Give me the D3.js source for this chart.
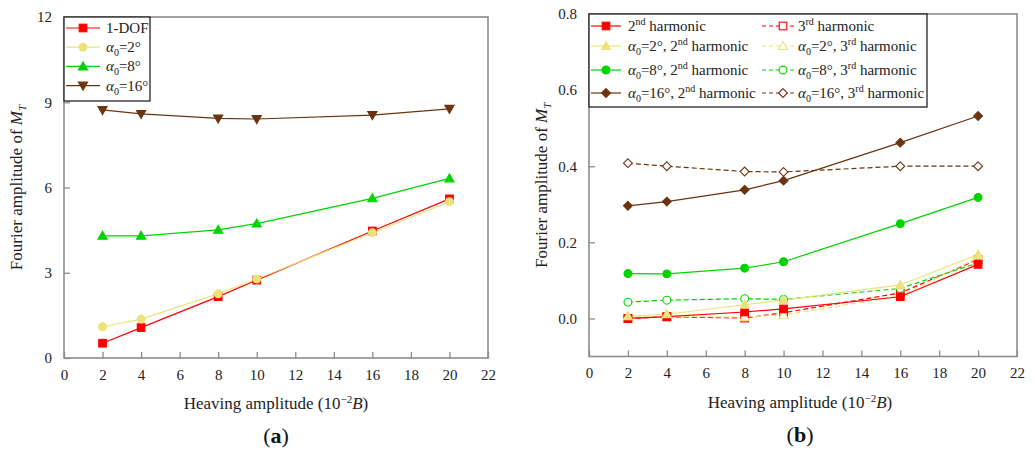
<!DOCTYPE html>
<html>
<head>
<meta charset="utf-8">
<script src="https://cdn.jsdelivr.net/npm/d3@7"></script>
<style>
  html, body { margin: 0; padding: 0; background: #fff; }
  svg { display: block; }
  svg text { font-family: "Liberation Serif", "DejaVu Serif", serif !important; }
</style>
</head>
<body>
<svg id="chart" width="1035" height="450"></svg>
<script>
// Heaving amplitudes (10^-2 B)
const heave = [2, 4, 8, 10, 16, 20];
const xTicks = [0, 2, 4, 6, 8, 10, 12, 14, 16, 18, 20, 22];

// (a) first-harmonic Fourier amplitude of M_T
const oneDof   = [0.52, 1.07, 2.16, 2.74, 4.47, 5.60];
const alpha2   = [1.10, 1.37, 2.26, 2.78, 4.41, 5.50];
const alpha8   = [4.30, 4.30, 4.51, 4.73, 5.62, 6.32];
const alpha16  = [8.73, 8.59, 8.43, 8.41, 8.55, 8.77];
const yTicksA  = [0, 3, 6, 9, 12];

// (b) higher-harmonic amplitudes of M_T
const dof2nd     = [0.000, 0.005, 0.017, 0.025, 0.057, 0.142];
const dof3rd     = [0.000, 0.004, 0.001, 0.015, 0.067, 0.155];
const a2_2nd     = [0.006, 0.011, 0.036, 0.048, 0.088, 0.168];
const a2_3rd     = [0.003, 0.005, 0.004, 0.009, 0.059, 0.160];
const a8_2nd     = [0.118, 0.117, 0.132, 0.149, 0.249, 0.318];
const a8_3rd     = [0.043, 0.048, 0.052, 0.050, 0.079, 0.146];
const a16_2nd    = [0.296, 0.307, 0.338, 0.362, 0.462, 0.532];
const a16_3rd    = [0.408, 0.400, 0.386, 0.385, 0.400, 0.400];
const yTicksB    = [0.0, 0.2, 0.4, 0.6, 0.8];

const RED = "#ff0000", YEL = "#ede27a", GRN = "#00d400", BRN = "#6b3410";
const FRAME = "#8c8c8c";

const svg = d3.select("#chart");

// marker shapes
function drawMarker(g, shape, x, y, color, filled) {
  const fill = filled ? color : "#fff";
  const sw = 1.1;
  if (shape === "square") {
    g.append("rect").attr("x", x - 3.8).attr("y", y - 3.8).attr("width", 7.6).attr("height", 7.6)
      .attr("fill", fill).attr("stroke", color).attr("stroke-width", sw);
  } else if (shape === "circle") {
    g.append("circle").attr("cx", x).attr("cy", y).attr("r", 3.9)
      .attr("fill", fill).attr("stroke", color).attr("stroke-width", sw);
  } else if (shape === "tri") {
    const s = 4.6;
    g.append("path").attr("d", `M${x},${y - s}L${x + s},${y + s * 0.75}L${x - s},${y + s * 0.75}Z`)
      .attr("fill", fill).attr("stroke", color).attr("stroke-width", sw);
  } else if (shape === "tridown") {
    const s = 4.6;
    g.append("path").attr("d", `M${x},${y + s}L${x + s},${y - s * 0.75}L${x - s},${y - s * 0.75}Z`)
      .attr("fill", fill).attr("stroke", color).attr("stroke-width", sw);
  } else if (shape === "diamond") {
    const s = 4.4;
    g.append("path").attr("d", `M${x},${y - s}L${x + s},${y}L${x},${y + s}L${x - s},${y}Z`)
      .attr("fill", fill).attr("stroke", color).attr("stroke-width", sw);
  }
}

function drawPanel(opts) {
  const { left, right, top, bottom, yDomain, yTicks, yFmt, series, caption, cx } = opts;
  const x = d3.scaleLinear().domain([0, 22]).range([left, right]);
  const y = d3.scaleLinear().domain(yDomain).range([bottom, top]);
  const g = svg.append("g");

  // plot frame
  g.append("rect").attr("x", left).attr("y", top).attr("width", right - left).attr("height", bottom - top)
    .attr("fill", "none").attr("stroke", FRAME).attr("stroke-width", 1.6);

  // inward ticks
  const xAxis = d3.axisBottom(x).tickValues(xTicks).tickSize(-6).tickPadding(11).tickFormat(d3.format("d"));
  const ax = g.append("g").attr("transform", `translate(0,${bottom})`).call(xAxis);
  const yAxis = d3.axisLeft(y).tickValues(yTicks).tickSize(-6).tickPadding(12).tickFormat(yFmt);
  const ay = g.append("g").attr("transform", `translate(${left},0)`).call(yAxis);
  [ax, ay].forEach(a => {
    a.select(".domain").remove();
    a.selectAll(".tick line").attr("stroke", FRAME).attr("stroke-width", 1.3);
    a.selectAll(".tick text").attr("fill", "#222").style("font-size", "15px");
  });

  // series
  const line = d3.line().x((d, i) => x(heave[i])).y(d => y(d));
  series.forEach(s => {
    g.append("path").datum(s.values).attr("d", line).attr("fill", "none")
      .attr("stroke", s.color).attr("stroke-width", 1.2)
      .attr("stroke-dasharray", s.dash ? "5,3" : null);
  });
  series.forEach(s => {
    s.values.forEach((v, i) => drawMarker(g, s.shape, x(heave[i]), y(v), s.color, s.filled));
  });

  // axis titles
  const yt = g.append("text").attr("transform", `translate(${left - 42},${(top + bottom) / 2}) rotate(-90)`)
    .attr("text-anchor", "middle").style("font-size", "17px").attr("fill", "#222");
  yt.append("tspan").text("Fourier amplitude of  ");
  yt.append("tspan").text("M").style("font-style", "italic");
  yt.append("tspan").text("T").style("font-style", "italic").style("font-size", "11px").attr("dy", 4);

  const xt = g.append("text").attr("x", cx).attr("y", bottom + 51).attr("text-anchor", "middle")
    .style("font-size", "17px").attr("fill", "#222");
  xt.append("tspan").text("Heaving amplitude (10");
  xt.append("tspan").text("\u22122").style("font-size", "11px").attr("dy", -6);
  xt.append("tspan").text("B").style("font-style", "italic").attr("dy", 6);
  xt.append("tspan").text(")");

  const cap = g.append("text").attr("x", cx).attr("y", bottom + 85).attr("text-anchor", "middle")
    .style("font-size", "22px").attr("fill", "#111");
  cap.append("tspan").text("(");
  cap.append("tspan").text(caption).style("font-weight", "bold");
  cap.append("tspan").text(")");

  return { x, y, g };
}

// legend label helper: alpha subscript then rest, optional superscript ordinal
function legendLabel(g, tx, ty, alpha, ord, rest) {
  const t = g.append("text").attr("x", tx).attr("y", ty + 5).style("font-size", "15px").attr("fill", "#222");
  if (alpha !== null) {
    t.append("tspan").text("\u03b1").style("font-style", "italic");
    t.append("tspan").text("0").style("font-size", "10px").attr("dy", 4);
    t.append("tspan").text("=" + alpha + "\u00b0" + (ord ? ", " : "")).attr("dy", -4);
  }
  if (ord) {
    t.append("tspan").text(ord[0]);
    t.append("tspan").text(ord[1]).style("font-size", "10px").attr("dy", -6);
    t.append("tspan").text(" harmonic").attr("dy", 6);
  }
  if (rest) t.append("tspan").text(rest);
}

// ---------- panel (a) ----------
const pa = drawPanel({
  left: 64, right: 488, top: 17, bottom: 358,
  yDomain: [0, 12], yTicks: yTicksA, yFmt: d3.format("d"),
  caption: "a", cx: 276,
  series: [
    { values: oneDof,  color: RED, shape: "square",  filled: true },
    { values: alpha2,  color: YEL, shape: "circle",  filled: true },
    { values: alpha8,  color: GRN, shape: "tri",     filled: true },
    { values: alpha16, color: BRN, shape: "tridown", filled: true }
  ]
});
{
  const g = pa.g.append("g");
  g.append("rect").attr("x", 64).attr("y", 17).attr("width", 86).attr("height", 84)
    .attr("fill", "#fff").attr("stroke", "#222").attr("stroke-width", 1.3);
  const rows = [
    { c: RED, s: "square", a: null, rest: "1-DOF" },
    { c: YEL, s: "circle", a: "2" },
    { c: GRN, s: "tri", a: "8" },
    { c: BRN, s: "tridown", a: "16" }
  ];
  rows.forEach((r, i) => {
    const yy = 28 + i * 19.2;
    g.append("line").attr("x1", 66).attr("x2", 100).attr("y1", yy).attr("y2", yy)
      .attr("stroke", r.c).attr("stroke-width", 1.2);
    drawMarker(g, r.s, 83, yy, r.c, true);
    legendLabel(g, 106, yy, r.a, null, r.rest);
  });
}

// ---------- panel (b) ----------
const pb = drawPanel({
  left: 589, right: 1017, top: 14, bottom: 356.5,
  yDomain: [-0.1, 0.8], yTicks: yTicksB, yFmt: d3.format(".1f"),
  caption: "b", cx: 800,
  series: [
    { values: dof3rd,  color: RED, shape: "square",  filled: false, dash: true },
    { values: a2_3rd,  color: YEL, shape: "tri",     filled: false, dash: true },
    { values: a8_3rd,  color: GRN, shape: "circle",  filled: false, dash: true },
    { values: a16_3rd, color: BRN, shape: "diamond", filled: false, dash: true },
    { values: dof2nd,  color: RED, shape: "square",  filled: true },
    { values: a2_2nd,  color: YEL, shape: "tri",     filled: true },
    { values: a8_2nd,  color: GRN, shape: "circle",  filled: true },
    { values: a16_2nd, color: BRN, shape: "diamond", filled: true }
  ]
});
{
  const g = pb.g.append("g");
  g.append("rect").attr("x", 589).attr("y", 14).attr("width", 338).attr("height", 93)
    .attr("fill", "#fff").attr("stroke", "#222").attr("stroke-width", 1.3);
  const rowY = [26, 46, 70, 93];
  const rows = [
    { c: RED, s: "square", a: null },
    { c: YEL, s: "tri", a: "2" },
    { c: GRN, s: "circle", a: "8" },
    { c: BRN, s: "diamond", a: "16" }
  ];
  rows.forEach((r, i) => {
    const yy = rowY[i];
    // 2nd harmonic (solid, filled)
    g.append("line").attr("x1", 591).attr("x2", 621).attr("y1", yy).attr("y2", yy)
      .attr("stroke", r.c).attr("stroke-width", 1.2);
    drawMarker(g, r.s, 606, yy, r.c, true);
    legendLabel(g, 628, yy, r.a, ["2", "nd"]);
    // 3rd harmonic (dashed, open)
    g.append("line").attr("x1", 762).attr("x2", 796).attr("y1", yy).attr("y2", yy)
      .attr("stroke", r.c).attr("stroke-width", 1.2).attr("stroke-dasharray", "4,3");
    drawMarker(g, r.s, 783, yy, r.c, false);
    legendLabel(g, 798, yy, r.a, ["3", "rd"]);
  });
}
</script>
</body>
</html>
